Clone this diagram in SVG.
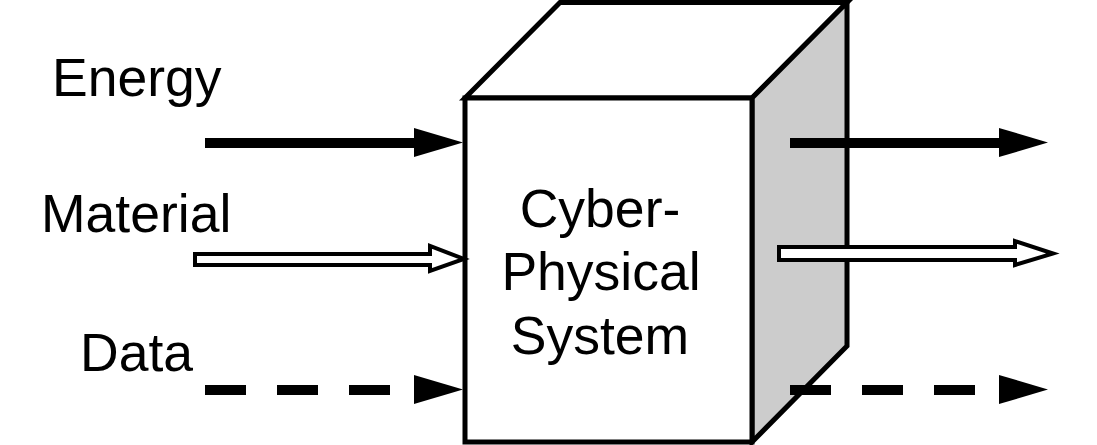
<svg xmlns="http://www.w3.org/2000/svg" width="1097" height="445" viewBox="0 0 1097 445">
<style>
.lbl{font-family:"Liberation Sans",Arial,sans-serif;font-size:53.5px;fill:#000}
.edge{stroke:#000;stroke-width:5;stroke-linejoin:miter}
.solid{stroke:#000;stroke-width:10;fill:none}
.dash{stroke:#000;stroke-width:10;fill:none;stroke-dasharray:41 31}
.hollow{fill:#fff;stroke:#000;stroke-width:4;stroke-linejoin:miter}
.head{fill:#000}
</style>
<rect width="1097" height="445" fill="#fff"/>
<g id="labels">
<text class="lbl" x="52" y="96">Energy</text>
<text class="lbl" x="41" y="232">Material</text>
<text class="lbl" x="80" y="371">Data</text>
</g>
<g id="cps">
<polygon class="edge" fill="#fff" points="465,98 560,2.5 847,2.5 752,98"/>
<polygon class="edge" fill="#cccccc" points="752,98 847,2.5 847,346 752,442"/>
<rect class="edge" fill="#fff" x="465" y="98" width="287" height="344"/>
<text class="lbl" text-anchor="middle" x="600" y="227">Cyber-</text>
<text class="lbl" text-anchor="middle" x="601" y="290">Physical</text>
<text class="lbl" text-anchor="middle" x="600" y="354">System</text>
</g>
<g id="connectors">
<line class="solid" x1="205" y1="143" x2="416" y2="143"/>
<polygon class="head" points="414,128 463,142.5 414,157"/>
<polygon class="hollow" points="195,254 430,254 430,246 464,259 430,271 430,265 195,265"/>
<line class="dash" x1="205" y1="390" x2="414" y2="390"/>
<polygon class="head" points="414,375 463,389.5 414,404"/>
<line class="solid" x1="790" y1="143" x2="1001" y2="143"/>
<polygon class="head" points="999,128 1048,142.5 999,157"/>
<polygon class="hollow" points="779,247 1015,247 1015,241 1053,253.5 1015,265 1015,260 779,260"/>
<line class="dash" x1="790" y1="390" x2="999" y2="390"/>
<polygon class="head" points="999,375 1048,389.5 999,404"/>
</g>
</svg>
